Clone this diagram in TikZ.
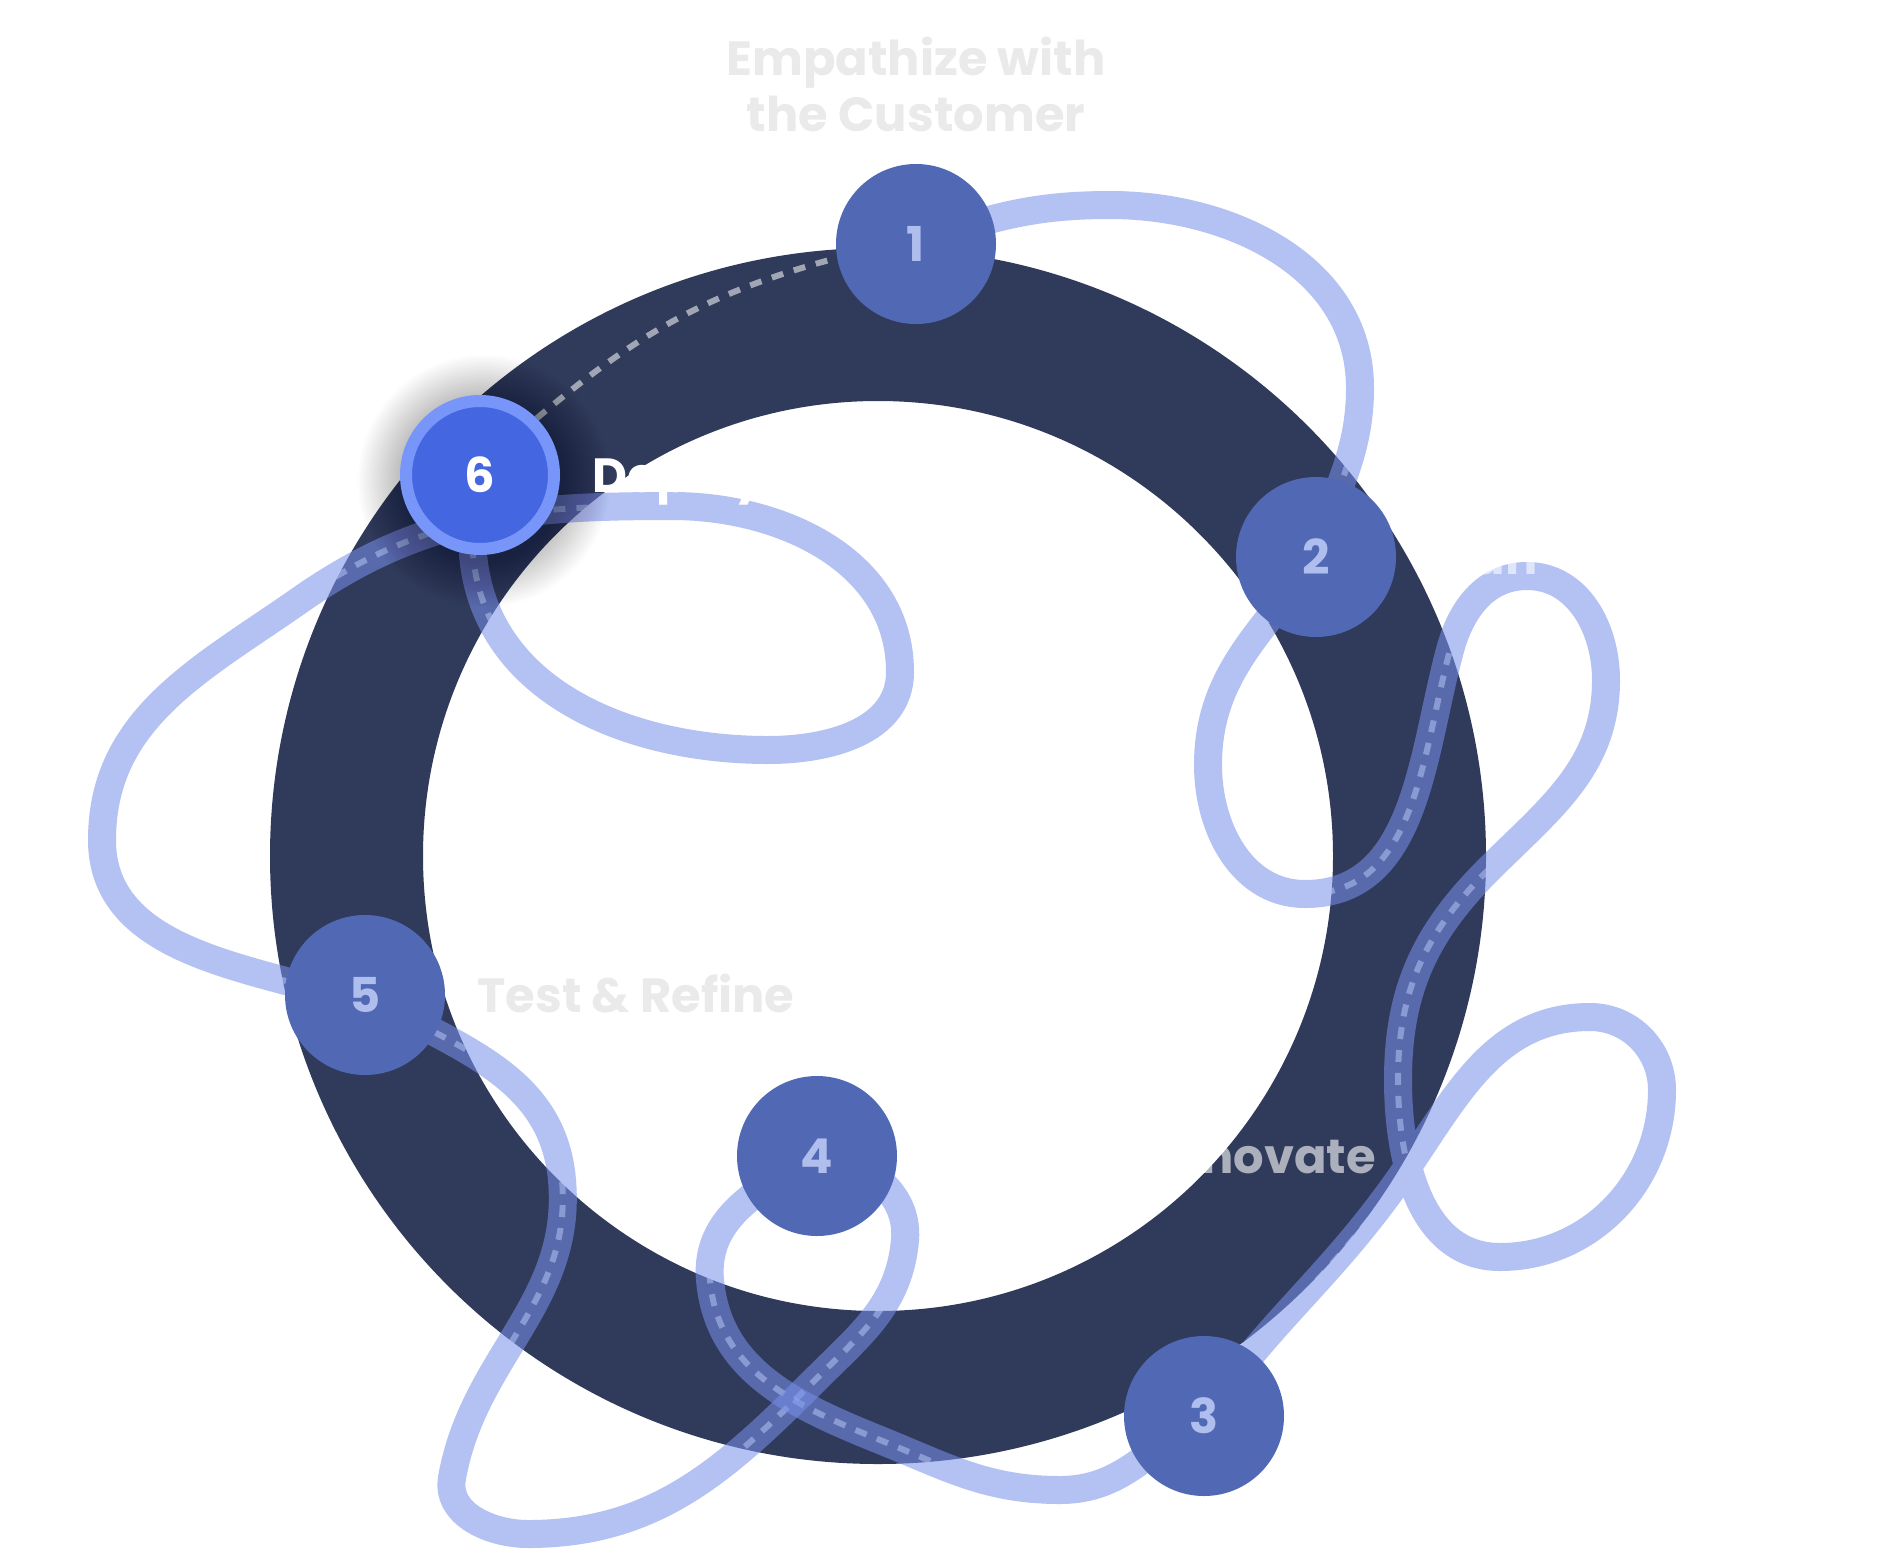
\documentclass[tikz,border=0pt]{standalone}
\usepackage{fontspec}
\setmainfont{Poppins}
\usetikzlibrary{positioning,calc}
\definecolor{ringnavy}{HTML}{303A5B}
\definecolor{stepblue}{HTML}{5169B5}
\definecolor{steptext}{HTML}{B0BEEE}
\definecolor{roadblue}{RGB}{120,145,235}
\definecolor{activefill}{HTML}{4466E0}
\definecolor{activerim}{HTML}{7896FA}
\definecolor{labelgray}{HTML}{EAEAEA}
\pgfdeclarelayer{back}
\pgfdeclarelayer{dash}
\pgfdeclarelayer{front}
\pgfsetlayers{back,dash,main,front}

% one leg of the road: dashed centre line below, translucent band above
\newcommand{\roadleg}[1]{%
  \begin{pgfonlayer}{dash}\draw[roaddash] #1;\end{pgfonlayer}
  \draw[road] #1;}

\begin{document}
\begin{tikzpicture}[
  x=1pt, y=-1pt,
  font=\bfseries\fontsize{48}{56}\selectfont,
  stepnode/.style={circle,fill=stepblue,text=steptext,minimum size=160pt,inner sep=0pt},
  activenode/.style={circle,fill=activefill,draw=activerim,line width=12pt,text=white,minimum size=148pt,inner sep=0pt},
  lbl/.style={inner sep=0pt,text height=34pt,text depth=0pt},
  faint/.style={text=white,text opacity=0.6},
  road/.style={draw=roadblue,draw opacity=0.56,line width=28pt,line cap=round,line join=round},
  roaddash/.style={draw=white,draw opacity=0.55,line width=6pt,dash pattern=on 12pt off 11pt}
]
\useasboundingbox (0,0) rectangle (1881,1560);
\begin{pgfonlayer}{back}
\fill[white] (0,0) rectangle (1881,1560);
\draw[ringnavy,line width=153pt] (878,856) circle[radius=531.5pt];
\end{pgfonlayer}

\begin{pgfonlayer}{front}
\coordinate (c6) at (484,481);
\foreach \r in {80,82,...,126}
  \fill[black,opacity=0.013] (c6) circle[radius=\r pt];
\node[stepnode] (n1) at (916,244) {1};
\node[stepnode] (n2) at (1316,557) {2};
\node[stepnode] (n3) at (1204,1416) {3};
\node[stepnode] (n4) at (817,1156) {4};
\node[stepnode] (n5) at (365,995) {5};
\node[activenode] (n6) at (480,475) {6};

\node[text=labelgray,align=center,inner sep=0pt,text depth=0pt,above=32pt of n1] (l1) {Empathize with\\the Customer};
\node[lbl,faint,right=32pt of n2] (l2) {Plan};
\node[lbl,faint,anchor=east] (l4) at (1376,1156) {Innovate};
\node[lbl,text=labelgray,right=32pt of n5] (l5) {Test \& Refine};
\node[lbl,text=white,right=32pt of n6] (l6) {Deploy};
\end{pgfonlayer}

\roadleg{(n1.center) to[out=20,in=180] (1110,205) to[out=0,in=90] (1360,388) to[out=-90,in=75] (n2.center)}
\roadleg{(n2.center) to[out=-125,in=90] (1208,765) to[out=-90,in=180] (1305,894)
  to[out=0,in=-105] (1450,650) to[out=75,in=180] (1527,576) to[out=0,in=90] (1606,680)
  to[out=-90,in=45] (1488,870) to[out=-135,in=90] (1398,1080) to[out=-90,in=180] (1500,1257)
  to[out=0,in=-90] (1662,1090) to[out=90,in=0] (1590,1017) to[out=180,in=55] (1400,1178)
  to[out=-125,in=55] (n3.center)}
\roadleg{(n3.center) to[out=-150,in=0] (1060,1490) to[out=180,in=-22] (880,1440)
  to[out=158,in=-85] (710,1280) to[out=95,in=-150] (n4.center)}
\roadleg{(n4.center) to[out=-5,in=85] (905,1240) to[out=-95,in=45] (815,1380) to[out=-135,in=0] (528,1534)
  to[out=180,in=-100] (452,1478) to[out=80,in=-85] (562,1180) to[out=95,in=-30] (n5.center)}
\roadleg{(n5.170) to[out=165,in=-90] (102,840) to[out=90,in=-145] (300,600)
  to[out=35,in=180] (672,506) to[out=0,in=90] (900,672) to[out=-90,in=0] (768,750)
  to[out=180,in=-85] (n6.-95)}
\begin{pgfonlayer}{dash}
\draw[roaddash] (n6.45) to[out=40,in=-165] (n1.-170);
\end{pgfonlayer}
\end{tikzpicture}
\end{document}
